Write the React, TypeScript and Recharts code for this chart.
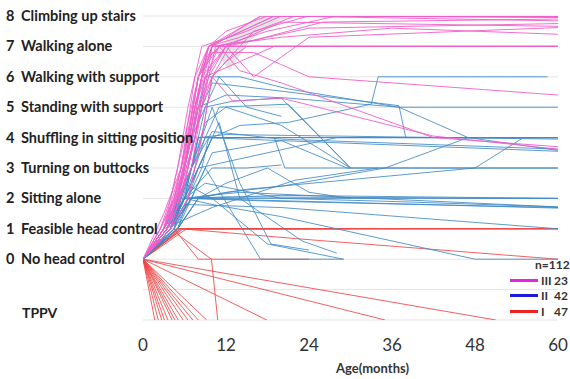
import React from 'react';
import { ComposedChart, Line, Area, XAxis, YAxis, CartesianGrid, Label } from 'recharts';

type Pt = [number, number];

// motor levels, 0..8, TPPV drawn at -2
const levelNames = [
  'No head control',
  'Feasible head control',
  'Sitting alone',
  'Turning on buttocks',
  'Shuffling in sitting position',
  'Standing with support',
  'Walking with support',
  'Walking alone',
  'Climbing up stairs',
];
const yTicks = [-2, -1, 0, 1, 2, 3, 4, 5, 6, 7, 8];
const ageTicks = [0, 12, 24, 36, 48, 60];

const groupNames = ['III', 'II', 'I'];
const groupCounts = [23, 42, 47];
const totalN = 112;

// grey band near the top
const bandMonths = [10.5, 12.5, 15.5, 17.2, 19.8, 22.7];
const bandLow = [6.8, 6.2, 7.2, 7.5, 7.86, 8];
const bandHigh = [6.9, 7.3, 7.8, 8, 8, 8];

// group III trajectories [month, level]
const pinkPaths: Pt[][] = [
  [[0, 0], [3, 1], [5, 2], [7, 4], [8.5, 6], [10, 7], [17, 8], [60, 8]],
  [[0, 0], [2.5, 1], [4.5, 2], [6.5, 4], [8, 6], [9.5, 7], [19, 8], [60, 8]],
  [[0, 0], [3, 1], [5.5, 2.5], [7.5, 5], [9.5, 7], [14, 7.3], [22, 8], [60, 7.95]],
  [[0, 0], [3.5, 1], [6, 3], [7.5, 5], [10, 7], [16, 7.2], [26, 7.8], [60, 7.9]],
  [[0, 0], [3, 1], [5, 2], [7.5, 4], [9, 6], [11, 7], [60, 7]],
  [[0, 0], [3.5, 1], [5.5, 2], [7.5, 4], [9.5, 6], [10.5, 7], [60, 7]],
  [[0, 0], [4, 1], [6.5, 3], [8.5, 5], [10, 7], [60, 7]],
  [[0, 0], [3, 1], [5, 2], [7, 4], [8.5, 6], [12, 7], [24, 7.6], [60, 7.75]],
  [[0, 0], [3, 1], [4.5, 2], [6.5, 4], [8, 6], [10, 7], [20, 7.3], [36, 7.6], [60, 7.4]],
  [[0, 0], [4, 1], [6.5, 3], [8, 5], [9.5, 6], [12, 7], [20, 7.8], [60, 7.66]],
  [[0, 0], [3, 1], [5, 2], [6.5, 4], [8, 6], [10, 6.8], [16, 6.8], [20, 6.4], [24, 6], [60, 5.4]],
  [[0, 0], [3.5, 1], [6, 3], [7.5, 5], [9, 6.5], [11, 7], [14, 6.2], [20, 5.8], [42, 4], [60, 3.7]],
  [[0, 0], [4, 1], [6.5, 2], [8.5, 4], [10, 6], [13, 5.2], [20, 5.3], [42, 4.05], [60, 3.62]],
  [[0, 0], [2.5, 1], [4, 2], [6, 4], [8, 6], [9.5, 7], [17, 8], [60, 8]],
  [[0, 0], [3, 1], [5, 3], [6.5, 5], [8.5, 7], [15, 7.5], [20, 8], [60, 7.84]],
  [[0, 0], [3, 1.5], [5.5, 3], [8, 6], [11, 7], [18, 7.5], [28, 8], [60, 8]],
  [[0, 0], [4, 1], [6.5, 2], [8.5, 4], [10, 6], [12, 6.5], [15, 7], [60, 7]],
  [[0, 0], [3, 1], [5.5, 3], [7.5, 6], [9.5, 7], [19, 8], [60, 7.97]],
  [[0, 0], [3.5, 1], [5, 2], [7, 3], [8.5, 5], [10, 6], [16, 7.5], [24, 8], [60, 8]],
  [[0, 0], [2.5, 1], [4.5, 2], [6, 3], [7.5, 5], [9, 6], [14, 6.5], [19, 7], [60, 7]],
  [[0, 0], [3, 1], [5, 2], [7.5, 4], [9, 6], [12, 7], [16, 6], [24, 7.3], [60, 7.62]],
  [[0, 0], [3.5, 1], [5.5, 2.5], [7.5, 5], [9.5, 7], [12, 7.5], [18, 8], [60, 8]],
  [[0, 0], [3, 1], [4.5, 2], [6.5, 3.5], [8, 5], [10, 6], [12.5, 7], [60, 7]],
];

// group II trajectories
const bluePaths: Pt[][] = [
  [[0, 0], [4, 1], [7, 2], [60, 2]],
  [[0, 0], [3.5, 1], [6, 2], [12, 2.05], [60, 2]],
  [[0, 0], [5, 1], [8, 2], [20, 2.1], [60, 2]],
  [[0, 0], [4, 1], [6.5, 2], [20, 1.9], [60, 1.7]],
  [[0, 0], [3, 1], [5.5, 2], [14, 2.2], [60, 1.72]],
  [[0, 0], [4.5, 1], [7, 2], [24, 1.9], [60, 1.68]],
  [[0, 0], [4, 1], [6, 1.8], [20, 1.7], [60, 1]],
  [[0, 0], [3.5, 1], [6, 2], [10, 1.8], [20, 1.4], [48, 0], [60, 0]],
  [[0, 0], [5, 1], [7, 2], [9, 3], [13, 1.5], [17, 0], [29, 0]],
  [[0, 0], [4, 1], [6, 2], [8, 3], [10, 4], [60, 4]],
  [[0, 0], [4.5, 1], [6.5, 2], [8.5, 3], [9.5, 4], [60, 4]],
  [[0, 0], [4, 1], [6, 2], [8, 4], [12, 4.1], [60, 3.95]],
  [[0, 0], [3.5, 1], [6, 2.5], [9, 4], [20, 3.9], [60, 3.55]],
  [[0, 0], [4, 1], [7, 3], [10, 4.2], [20, 3.95], [60, 3.62]],
  [[0, 0], [4, 1], [7, 2], [10, 3.5], [20, 3.9], [29.5, 3], [60, 3]],
  [[0, 0], [5, 1], [8, 2], [12, 2.2], [20, 2.4], [35, 3], [47, 4], [60, 4]],
  [[0, 0], [4, 1], [7, 2], [15, 2.3], [48, 3], [55, 4], [60, 4]],
  [[0, 0], [4, 1], [6, 2], [8, 3], [10, 4], [14, 4.4], [21, 4.5], [33, 5.1], [34, 6], [58.5, 6]],
  [[0, 0], [4, 1], [6, 3], [8, 5], [9, 6], [14, 6], [21, 5.6], [37, 5], [60, 5]],
  [[0, 0], [4.5, 1], [6.5, 3], [8.5, 5], [10, 5.8], [21, 5.5], [37, 5.05], [38, 4], [60, 4]],
  [[0, 0], [4, 1], [6, 3], [8, 5], [12, 5.4], [21, 5.3], [37, 5], [47, 4], [60, 3.58]],
  [[0, 0], [3, 1], [5, 2], [7, 4], [9, 5], [13, 5.2], [20, 5.3], [30, 3], [60, 3]],
  [[0, 0], [4, 1], [6, 2], [9, 4], [11, 5], [21, 5.1], [30, 3]],
  [[0, 0], [4, 1], [6, 2.5], [10, 2], [18, 0.5], [29, 0]],
  [[0, 0], [5, 1], [8, 3], [11, 4.5], [14, 2], [23, 0.6], [28, 0.2]],
  [[0, 0], [3, 1], [10, 1.7], [22, 2.6], [34, 3]],
  [[0, 0], [4, 1], [6, 2], [8, 4], [19, 4], [20.5, 3], [30, 3]],
  [[0, 0], [4, 1], [7, 3], [10, 5], [14, 2.5], [18.5, 0.5], [24, 0.3]],
  [[0, 0], [3, 1], [5, 2], [7, 3], [9, 4.5], [12, 5], [20, 4.4], [30, 3]],
  [[0, 0], [4, 1], [6, 2], [9, 2.5], [20, 2], [36, 1.9], [60, 1.72]],
  [[0, 0], [3.5, 1], [6, 2], [8, 3], [12, 3.2], [20, 3.6], [28, 4], [60, 4]],
  [[0, 0], [5, 1], [8, 2], [12, 2.5], [18, 3], [24, 2.2], [30, 2]],
  [[0, 0], [4.5, 1], [7, 3], [9, 5], [11, 6], [15, 5], [20, 4.7]],
  [[0, 0], [3, 1], [6, 2], [10, 3], [15, 3], [20, 3.1]],
];

// group I trajectories
const redPaths: Pt[][] = [
  [[0, 0], [1.7, -2]],
  [[0, 0], [2.2, -2]],
  [[0, 0], [2.7, -2]],
  [[0, 0], [3.1, -2]],
  [[0, 0], [3.6, -2]],
  [[0, 0], [4.2, -2]],
  [[0, 0], [4.6, -2]],
  [[0, 0], [5.1, -2]],
  [[0, 0], [5.8, -2]],
  [[0, 0], [6.5, -2]],
  [[0, 0], [7.2, -2]],
  [[0, 0], [8, -2]],
  [[0, 0], [9.2, -2]],
  [[0, 0], [17.9, -2]],
  [[0, 0], [35, -2]],
  [[0, 0], [51, -2]],
  [[0, 0], [4.8, 0.85], [9.9, 0], [10.8, -2]],
  [[0, 0], [4.5, 1], [8, 0], [24, 0]],
  [[0, 0], [4.8, 1], [60, 1]],
  [[0, 0], [5.8, 1], [60, 1]],
  [[0, 0], [5.2, 1], [60, 1]],
  [[0, 0], [6.3, 1], [24, 1]],
  [[0, 0], [5.5, 1], [30, 1]],
  [[0, 0], [5.5, 1], [23, 0.66], [60, 0]],
];

const PINK = '#ee5fca';
const BLUE = '#4189c4';
const RED = '#f04444';
const legendColors = ['#e424e0', '#1c1cd8', '#ee2424'];
const FONT = 'Lato';

const toRows = (p: Pt[]) => p.map(([x, y]) => ({ x, y }));
const bandRows = bandMonths.map((x, i) => ({ x, range: [bandLow[i], bandHigh[i]] }));

const LevelTick = ({ y, payload }: any) => {
  const v = payload.value;
  if (v === -1) return <g />;
  if (v === -2) {
    return (
      <text x={22} y={y - 7} dy="0.35em" fontSize={14} fontWeight={700} fill="#222" fontFamily={FONT}>
        TPPV
      </text>
    );
  }
  return (
    <g>
      <text x={6} y={y} dy="0.35em" fontSize={14.5} fontWeight={700} fill="#222" fontFamily={FONT}>
        {v}
      </text>
      <text x={21} y={y} dy="0.35em" fontSize={14.5} fontWeight={700} fill="#222" fontFamily={FONT}>
        {levelNames[v]}
      </text>
    </g>
  );
};

const AgeTick = ({ x, y, payload }: any) => (
  <text x={x} y={y} dy={23} textAnchor="middle" fontSize={17} fill="#333" fontFamily={FONT}>
    {payload.value}
  </text>
);

const GroupLegend = () => (
  <div
    style={{
      position: 'absolute',
      left: 510,
      top: 257,
      width: 60,
      fontFamily: FONT,
      fontWeight: 700,
      fontSize: 12,
      color: '#333',
      lineHeight: '15.5px',
    }}
  >
    <div style={{ paddingLeft: 25 }}>n={totalN}</div>
    {groupNames.map((g, i) => (
      <div key={g} style={{ display: 'flex', alignItems: 'center', height: 15.5 }}>
        <span style={{ display: 'inline-block', width: 28, height: 3, background: legendColors[i], marginRight: 3 }} />
        <span style={{ display: 'inline-block', width: 13 }}>{g}</span>
        <span>{groupCounts[i]}</span>
      </div>
    ))}
  </div>
);

const lineProps = {
  type: 'linear' as const,
  dataKey: 'y',
  strokeWidth: 1,
  dot: false,
  activeDot: false,
  isAnimationActive: false,
  legendType: 'none' as const,
};

export default function App() {
  return (
    <div style={{ position: 'absolute', left: 0, top: 0, width: 570, height: 379, background: '#fff' }}>
      <ComposedChart width={570} height={379} margin={{ top: 16, right: 12, bottom: 0, left: 0 }}>
        <CartesianGrid vertical={false} stroke="#e4e4e4" />
        <XAxis
          type="number"
          dataKey="x"
          domain={[0, 60]}
          ticks={ageTicks}
          axisLine={false}
          tickLine={false}
          height={59}
          tick={<AgeTick />}
          allowDataOverflow
        >
          <Label
            content={({ viewBox }: any) => (
              <text
                x={viewBox.x + viewBox.width / 2 + 22}
                y={viewBox.y + 53}
                textAnchor="middle"
                fontSize={13}
                fontWeight={700}
                fill="#333"
                fontFamily={FONT}
              >
                Age(months)
              </text>
            )}
          />
        </XAxis>
        <YAxis
          type="number"
          domain={[-2, 8]}
          ticks={yTicks}
          axisLine={false}
          tickLine={false}
          width={143}
          tick={<LevelTick />}
          allowDataOverflow
        />
        <Area
          data={bandRows}
          dataKey="range"
          type="linear"
          fill="#e4e4e4"
          fillOpacity={1}
          stroke="none"
          isAnimationActive={false}
          legendType="none"
        />
        {redPaths.map((p, i) => (
          <Line key={'r' + i} data={toRows(p)} stroke={RED} strokeOpacity={0.85} {...lineProps} />
        ))}
        {bluePaths.map((p, i) => (
          <Line key={'b' + i} data={toRows(p)} stroke={BLUE} strokeOpacity={0.85} {...lineProps} />
        ))}
        {pinkPaths.map((p, i) => (
          <Line key={'p' + i} data={toRows(p)} stroke={PINK} strokeOpacity={0.9} {...lineProps} />
        ))}
      </ComposedChart>
      <GroupLegend />
    </div>
  );
}
